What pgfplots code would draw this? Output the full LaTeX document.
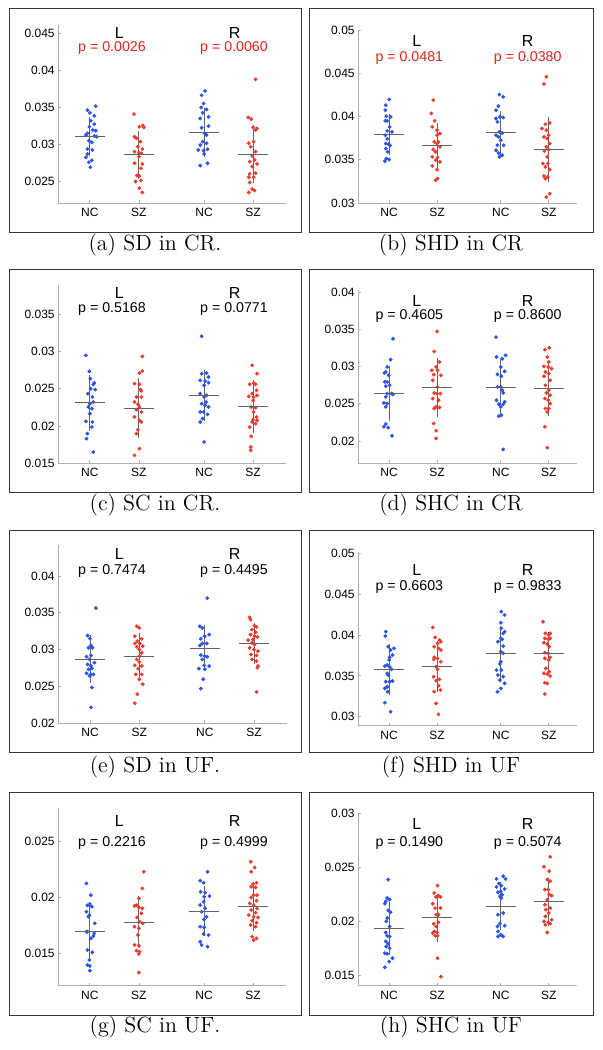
\documentclass[border=0pt]{standalone}
\usepackage{pgfplots}
\pgfplotsset{compat=1.18}
\usepackage{fontspec}
\newfontfamily\lib{Liberation Sans}
\definecolor{ptblue}{RGB}{45,85,235}
\definecolor{ptred}{RGB}{238,60,45}
\definecolor{axgray}{RGB}{175,175,175}
\definecolor{mgray}{RGB}{100,100,100}
\definecolor{pred}{RGB}{235,35,25}
\definecolor{frm}{RGB}{55,55,55}
\pgfplotsset{
  panel/.style={scale only axis, anchor=south west, axis lines*=left,
    axis line style={-, draw=axgray, line width=0.5pt},
    xmin=0.35, xtick={1,2,3.33,4.33}, xticklabels={NC,SZ,NC,SZ},
    tick style={draw=axgray, line width=0.4pt}, major tick length=1.5pt, tick align=inside,
    scaled y ticks=false,
    yticklabel style={/pgf/number format/fixed, /pgf/number format/precision=3, inner sep=0pt, xshift=-1.5pt},
    xticklabel style={inner sep=0pt, yshift=-2.4pt},
    ticklabel style={font=\lib\fontsize{6}{7}\selectfont},
    /pgf/number format/assume math mode=true, clip=false},
  nc/.style={only marks, mark=*, mark size=0.75pt, color=ptblue, mark options={draw=none, fill=ptblue}},
  sz/.style={only marks, mark=*, mark size=0.75pt, color=ptred, mark options={draw=none, fill=ptred}},
  mn/.style={only marks, mark=-, mark size=7.5pt, color=mgray, mark options={line width=0.45pt},
    error bars/.cd, y dir=both, y explicit, error bar style={mgray, line width=0.45pt},
    error mark options={mgray, mark size=1.3pt, line width=0.45pt}}
}
\newcommand{\LRlab}[3]{\node[anchor=base, inner sep=0pt, font=\lib\fontsize{8}{9}\selectfont] at (#1,#3) {L};
  \node[anchor=base, inner sep=0pt, font=\lib\fontsize{8}{9}\selectfont] at (#2,#3) {R};}
\newcommand{\plab}[6]{\node[anchor=base, inner sep=0pt, text=#4, font=\lib\fontsize{7.1}{8}\selectfont] at (#1,#3) {#5};
  \node[anchor=base, inner sep=0pt, text=#4, font=\lib\fontsize{7.1}{8}\selectfont] at (#2,#3) {#6};}
\begin{document}
\begin{tikzpicture}
\path[use as bounding box] (0,0) rectangle (301pt,-525pt);
\begin{scope}[x=0.5pt,y=-0.5pt]
\draw[line width=0.5pt, frm] (9,8) rectangle (301,232);
\draw[line width=0.5pt, frm] (309,8) rectangle (593,232);
\draw[line width=0.5pt, frm] (9,269) rectangle (301,492);
\draw[line width=0.5pt, frm] (309,269) rectangle (593,492);
\draw[line width=0.5pt, frm] (9,530) rectangle (301,752);
\draw[line width=0.5pt, frm] (309,530) rectangle (593,752);
\draw[line width=0.5pt, frm] (9,792) rectangle (301,1015);
\draw[line width=0.5pt, frm] (309,792) rectangle (593,1015);
\node[anchor=base, font=\fontsize{11}{13}\selectfont] at (155,250.5) {(a) SD in CR.};
\node[anchor=base, font=\fontsize{11}{13}\selectfont] at (451,250.5) {(b) SHD in CR};
\node[anchor=base, font=\fontsize{11}{13}\selectfont] at (155,510.5) {(c) SC in CR.};
\node[anchor=base, font=\fontsize{11}{13}\selectfont] at (451,510.5) {(d) SHC in CR};
\node[anchor=base, font=\fontsize{11}{13}\selectfont] at (155,772) {(e) SD in UF.};
\node[anchor=base, font=\fontsize{11}{13}\selectfont] at (451,772) {(f) SHD in UF};
\node[anchor=base, font=\fontsize{11}{13}\selectfont] at (155,1032.5) {(g) SC in UF.};
\node[anchor=base, font=\fontsize{11}{13}\selectfont] at (451,1032.5) {(h) SHC in UF};
\LRlab{119.3}{234.7}{38.3}
\plab{112}{234}{51.7}{pred}{p = 0.0026}{p = 0.0060}
\LRlab{416.7}{527.7}{46.7}
\plab{409.3}{527.7}{61}{pred}{p = 0.0481}{p = 0.0380}
\LRlab{119.3}{234.7}{298.3}
\plab{112}{234}{312.3}{black}{p = 0.5168}{p = 0.0771}
\LRlab{416.7}{527.7}{306}
\plab{409.3}{527.7}{319}{black}{p = 0.4605}{p = 0.8600}
\LRlab{119.3}{234.7}{559.3}
\plab{112}{234}{574}{black}{p = 0.7474}{p = 0.4495}
\LRlab{416.7}{527.7}{575.3}
\plab{409.3}{527.7}{590}{black}{p = 0.6603}{p = 0.9833}
\LRlab{119.3}{234.7}{826.7}
\plab{112}{234}{846.7}{black}{p = 0.2216}{p = 0.4999}
\LRlab{416.7}{527.7}{829.3}
\plab{409.3}{527.7}{846.7}{black}{p = 0.1490}{p = 0.5074}
\end{scope}
% (a)
\begin{axis}[panel, at={(29pt,-101.5pt)}, width=114pt, height=89pt, xmax=5.0, ymin=0.0221, ymax=0.0461, ytick={0.025,0.03,0.035,0.04,0.045}]
\addplot[nc] coordinates {(1.12,0.03516)(0.95,0.03462)(1.00,0.03426)(1.09,0.03386)(1.02,0.03319)(1.09,0.03274)(0.99,0.03238)(1.06,0.03194)(1.12,0.03185)(0.95,0.03149)(0.92,0.03126)(1.09,0.03113)(1.14,0.03104)(0.98,0.03050)(1.04,0.03028)(0.95,0.02938)(1.05,0.02925)(0.95,0.02871)(0.92,0.02827)(1.04,0.02786)(0.98,0.02760)(1.01,0.02692)};
\addplot[sz] coordinates {(1.90,0.03408)(2.08,0.03256)(2.01,0.03238)(2.10,0.03229)(1.91,0.03104)(1.95,0.03082)(2.03,0.03037)(1.98,0.02970)(2.07,0.02938)(1.91,0.02903)(2.00,0.02889)(2.05,0.02880)(2.00,0.02836)(1.91,0.02746)(2.07,0.02737)(2.04,0.02679)(1.96,0.02581)(2.01,0.02576)(1.93,0.02500)(2.04,0.02513)(2.01,0.02411)(2.07,0.02352)};
\addplot[nc] coordinates {(3.35,0.03721)(3.28,0.03663)(3.32,0.03551)(3.27,0.03498)(3.38,0.03471)(3.30,0.03426)(3.42,0.03372)(3.25,0.03350)(3.42,0.03247)(3.28,0.03225)(3.34,0.03149)(3.38,0.03126)(3.30,0.03037)(3.38,0.03015)(3.25,0.02992)(3.21,0.02925)(3.32,0.02916)(3.40,0.02934)(3.33,0.02871)(3.40,0.02746)(3.25,0.02715)};
\addplot[sz] coordinates {(4.38,0.03878)(4.23,0.03364)(4.29,0.03341)(4.41,0.03216)(4.33,0.03229)(4.38,0.03194)(4.24,0.03015)(4.34,0.03037)(4.28,0.02970)(4.38,0.02903)(4.31,0.02845)(4.26,0.02768)(4.36,0.02791)(4.41,0.02737)(4.31,0.02701)(4.38,0.02612)(4.26,0.02603)(4.24,0.02558)(4.34,0.02558)(4.26,0.02487)(4.31,0.02397)(4.36,0.02379)(4.24,0.02352)};
\addplot[mn] coordinates {(1,0.0311) +- (0,0.0023) (2,0.0286) +- (0,0.0029) (3.33,0.0316) +- (0,0.0029) (4.33,0.0287) +- (0,0.0036)};
\end{axis}
% (b)
\begin{axis}[panel, at={(179pt,-101.5pt)}, width=109.5pt, height=86.5pt, xmax=4.92, ymin=0.03, ymax=0.05, ytick={0.03,0.035,0.04,0.045,0.05}]
\addplot[nc] coordinates {(1.00,0.04197)(0.93,0.04131)(0.92,0.04073)(0.94,0.04004)(1.03,0.03996)(0.96,0.03950)(0.92,0.03950)(1.01,0.03880)(0.96,0.03834)(1.06,0.03822)(0.92,0.03784)(0.96,0.03741)(0.93,0.03687)(0.99,0.03680)(1.02,0.03664)(0.93,0.03629)(0.97,0.03591)(0.94,0.03514)(1.00,0.03502)(0.91,0.03483)};
\addplot[sz] coordinates {(1.92,0.04189)(1.88,0.04035)(1.95,0.03950)(1.90,0.03880)(2.00,0.03842)(2.06,0.03803)(2.00,0.03784)(1.94,0.03707)(2.03,0.03707)(2.00,0.03687)(2.06,0.03649)(1.92,0.03618)(1.97,0.03591)(1.90,0.03533)(2.01,0.03525)(1.97,0.03494)(2.06,0.03475)(1.90,0.03429)(2.00,0.03386)(2.01,0.03282)(1.97,0.03263)};
\addplot[nc] coordinates {(3.30,0.04255)(3.38,0.04228)(3.28,0.04120)(3.23,0.04073)(3.31,0.03996)(3.23,0.03977)(3.38,0.03988)(3.26,0.03938)(3.30,0.03822)(3.36,0.03810)(3.23,0.03784)(3.28,0.03764)(3.33,0.03726)(3.26,0.03668)(3.39,0.03668)(3.23,0.03610)(3.28,0.03579)(3.33,0.03552)(3.36,0.03552)(3.30,0.03533)};
\addplot[sz] coordinates {(4.28,0.04459)(4.23,0.04375)(4.35,0.03927)(4.26,0.03911)(4.19,0.03861)(4.28,0.03842)(4.33,0.03784)(4.23,0.03764)(4.30,0.03745)(4.35,0.03687)(4.28,0.03649)(4.33,0.03618)(4.24,0.03602)(4.30,0.03533)(4.21,0.03456)(4.31,0.03456)(4.26,0.03417)(4.35,0.03386)(4.23,0.03313)(4.31,0.03301)(4.26,0.03282)(4.35,0.03108)(4.28,0.03069)};
\addplot[mn] coordinates {(1,0.0379) +- (0,0.0021) (2,0.0366) +- (0,0.0023) (3.33,0.0381) +- (0,0.0022) (4.33,0.0362) +- (0,0.0035)};
\end{axis}
% (c)
\begin{axis}[panel, at={(29pt,-231.5pt)}, width=114pt, height=89pt, xmax=5.0, ymin=0.015, ymax=0.039, ytick={0.015,0.02,0.025,0.03,0.035}]
\addplot[nc] coordinates {(0.92,0.02952)(0.99,0.02736)(1.01,0.02637)(1.09,0.02579)(1.07,0.02561)(1.02,0.02502)(1.11,0.02489)(0.96,0.02435)(1.05,0.02390)(1.07,0.02322)(1.00,0.02300)(0.97,0.02255)(1.04,0.02233)(1.00,0.02165)(0.92,0.02062)(1.05,0.02053)(1.04,0.01985)(0.95,0.01896)(0.93,0.01828)(1.07,0.01648)};
\addplot[sz] coordinates {(2.07,0.02938)(2.07,0.02740)(2.01,0.02713)(1.91,0.02570)(2.01,0.02561)(2.03,0.02489)(2.05,0.02471)(1.95,0.02390)(2.05,0.02390)(1.91,0.02322)(1.98,0.02291)(2.01,0.02255)(1.95,0.02219)(2.05,0.02188)(1.91,0.02120)(2.01,0.02075)(2.05,0.02053)(1.98,0.01949)(1.95,0.01896)(2.01,0.01693)(1.91,0.01603)};
\addplot[nc] coordinates {(3.28,0.03208)(3.42,0.02660)(3.38,0.02713)(3.28,0.02704)(3.25,0.02615)(3.35,0.02606)(3.42,0.02583)(3.33,0.02547)(3.25,0.02435)(3.38,0.02412)(3.33,0.02390)(3.28,0.02300)(3.37,0.02322)(3.35,0.02278)(3.42,0.02255)(3.32,0.02188)(3.25,0.02188)(3.40,0.02156)(3.30,0.02098)(3.25,0.02053)(3.33,0.01783)};
\addplot[sz] coordinates {(4.31,0.02817)(4.41,0.02704)(4.34,0.02579)(4.26,0.02561)(4.38,0.02561)(4.40,0.02480)(4.31,0.02435)(4.34,0.02390)(4.24,0.02399)(4.41,0.02412)(4.33,0.02345)(4.29,0.02255)(4.38,0.02246)(4.34,0.02188)(4.40,0.02120)(4.33,0.02084)(4.41,0.02075)(4.31,0.02053)(4.38,0.02030)(4.26,0.01985)(4.29,0.01860)(4.28,0.01716)(4.28,0.01671)};
\addplot[mn] coordinates {(1,0.0231) +- (0,0.0034) (2,0.0224) +- (0,0.0037) (3.33,0.0241) +- (0,0.0031) (4.33,0.0226) +- (0,0.0032)};
\end{axis}
% (d)
\begin{axis}[panel, at={(179pt,-231.5pt)}, width=109.5pt, height=86.5pt, xmax=4.92, ymin=0.01705, ymax=0.0403, ytick={0.02,0.025,0.03,0.035,0.04}]
\addplot[nc] coordinates {(1.08,0.03375)(1.03,0.03094)(0.96,0.02996)(0.93,0.02929)(0.90,0.02915)(0.99,0.02884)(0.91,0.02795)(0.96,0.02795)(0.93,0.02737)(1.01,0.02750)(0.96,0.02638)(1.05,0.02638)(1.08,0.02629)(0.93,0.02594)(0.89,0.02513)(0.96,0.02504)(0.93,0.02460)(0.93,0.02228)(0.89,0.02192)(0.98,0.02179)(1.06,0.02071)};
\addplot[sz] coordinates {(2.00,0.03473)(1.94,0.03205)(2.05,0.03062)(1.98,0.02996)(1.89,0.02951)(2.01,0.02951)(1.93,0.02893)(2.08,0.02884)(1.91,0.02817)(2.01,0.02728)(1.94,0.02647)(2.00,0.02638)(2.07,0.02638)(1.91,0.02571)(2.03,0.02549)(1.98,0.02460)(2.05,0.02451)(1.94,0.02438)(1.93,0.02237)(1.98,0.02138)(1.98,0.02036)};
\addplot[nc] coordinates {(3.23,0.03397)(3.24,0.03129)(3.36,0.03107)(3.43,0.03152)(3.33,0.02996)(3.41,0.02937)(3.26,0.02897)(3.34,0.02871)(3.26,0.02728)(3.33,0.02728)(3.36,0.02683)(3.38,0.02647)(3.24,0.02549)(3.41,0.02527)(3.29,0.02496)(3.38,0.02496)(3.33,0.02460)(3.34,0.02348)(3.29,0.02335)(3.38,0.01888)};
\addplot[sz] coordinates {(4.25,0.03228)(4.34,0.03254)(4.30,0.03129)(4.33,0.03062)(4.23,0.03004)(4.32,0.02996)(4.39,0.02973)(4.26,0.02929)(4.33,0.02906)(4.23,0.02871)(4.36,0.02817)(4.26,0.02750)(4.33,0.02683)(4.28,0.02647)(4.36,0.02616)(4.25,0.02571)(4.32,0.02549)(4.36,0.02504)(4.26,0.02438)(4.33,0.02438)(4.30,0.02393)(4.25,0.02192)(4.30,0.01911)};
\addplot[mn] coordinates {(1,0.0264) +- (0,0.0033) (2,0.0272) +- (0,0.0036) (3.33,0.0272) +- (0,0.0035) (4.33,0.0271) +- (0,0.0034)};
\end{axis}
% (e)
\begin{axis}[panel, at={(29pt,-361.5pt)}, width=114.5pt, height=89pt, xmax=5.0, ymin=0.02, ymax=0.0442, ytick={0.02,0.025,0.03,0.035,0.04}]
\addplot[nc] coordinates {(1.12,0.03563)(0.95,0.03189)(1.00,0.03149)(1.02,0.03054)(0.97,0.03023)(1.05,0.03023)(1.02,0.02919)(0.93,0.02901)(0.99,0.02865)(1.09,0.02820)(0.95,0.02797)(1.02,0.02775)(1.04,0.02743)(0.97,0.02730)(0.93,0.02676)(1.02,0.02662)(1.07,0.02662)(0.99,0.02640)(1.04,0.02482)(1.02,0.02212)};
\addplot[sz] coordinates {(1.95,0.03315)(2.00,0.03293)(1.91,0.03180)(2.05,0.03144)(1.96,0.03113)(2.01,0.03081)(1.91,0.03081)(2.07,0.03045)(1.95,0.03036)(2.00,0.03000)(2.05,0.02955)(2.01,0.02910)(1.95,0.02865)(2.00,0.02829)(1.91,0.02784)(2.05,0.02775)(1.98,0.02739)(1.93,0.02662)(2.05,0.02662)(2.00,0.02595)(2.07,0.02527)(1.96,0.02392)(1.91,0.02270)};
\addplot[nc] coordinates {(3.38,0.03698)(3.23,0.03315)(3.28,0.03293)(3.42,0.03203)(3.33,0.03180)(3.25,0.03144)(3.28,0.03081)(3.37,0.03081)(3.23,0.03054)(3.25,0.02923)(3.33,0.02910)(3.38,0.02901)(3.28,0.02865)(3.21,0.02739)(3.42,0.02775)(3.32,0.02784)(3.33,0.02730)(3.30,0.02595)(3.25,0.02468)};
\addplot[sz] coordinates {(4.24,0.03437)(4.26,0.03405)(4.34,0.03324)(4.38,0.03306)(4.29,0.03270)(4.36,0.03234)(4.26,0.03203)(4.34,0.03180)(4.40,0.03171)(4.31,0.03135)(4.21,0.03126)(4.29,0.03090)(4.34,0.03068)(4.24,0.03023)(4.33,0.03000)(4.41,0.02977)(4.27,0.02932)(4.38,0.02919)(4.29,0.02865)(4.38,0.02842)(4.41,0.02775)(4.40,0.02752)(4.38,0.02423)};
\addplot[mn] coordinates {(1,0.0287) +- (0,0.0029) (2,0.0290) +- (0,0.0029) (3.33,0.0302) +- (0,0.0028) (4.33,0.0308) +- (0,0.0024)};
\end{axis}
% (f)
\begin{axis}[panel, at={(179pt,-362.85pt)}, width=109.5pt, height=87pt, xmax=4.92, ymin=0.0289, ymax=0.0502, ytick={0.03,0.035,0.04,0.045,0.05}]
\addplot[nc] coordinates {(0.93,0.04041)(0.92,0.03988)(0.98,0.03857)(1.10,0.03837)(1.03,0.03816)(1.07,0.03755)(1.01,0.03727)(1.00,0.03694)(0.96,0.03633)(0.91,0.03620)(1.01,0.03612)(1.05,0.03580)(0.96,0.03531)(0.98,0.03510)(0.93,0.03429)(1.01,0.03429)(1.07,0.03437)(0.96,0.03367)(0.91,0.03347)(0.97,0.03306)(0.91,0.03171)(1.03,0.03061)};
\addplot[sz] coordinates {(1.91,0.04094)(1.96,0.03971)(2.05,0.03939)(2.08,0.03918)(2.01,0.03898)(1.94,0.03857)(2.03,0.03837)(2.08,0.03816)(1.94,0.03727)(2.01,0.03714)(1.93,0.03702)(2.08,0.03673)(1.98,0.03612)(2.01,0.03580)(1.93,0.03490)(2.05,0.03457)(1.98,0.03441)(2.03,0.03380)(1.94,0.03306)(2.07,0.03327)(1.98,0.03163)(2.03,0.03029)};
\addplot[nc] coordinates {(3.34,0.04286)(3.41,0.04245)(3.33,0.04151)(3.34,0.04082)(3.41,0.04041)(3.38,0.04020)(3.33,0.03959)(3.36,0.03947)(3.27,0.03918)(3.38,0.03865)(3.33,0.03796)(3.38,0.03776)(3.33,0.03673)(3.31,0.03645)(3.24,0.03571)(3.34,0.03571)(3.27,0.03510)(3.38,0.03490)(3.31,0.03449)(3.41,0.03408)(3.33,0.03347)(3.26,0.03306)};
\addplot[sz] coordinates {(4.21,0.04163)(4.26,0.04020)(4.36,0.04020)(4.33,0.04000)(4.25,0.03959)(4.32,0.03947)(4.36,0.03959)(4.23,0.03906)(4.30,0.03890)(4.34,0.03857)(4.25,0.03784)(4.32,0.03776)(4.36,0.03727)(4.25,0.03714)(4.33,0.03694)(4.27,0.03592)(4.34,0.03551)(4.23,0.03531)(4.30,0.03522)(4.36,0.03498)(4.25,0.03416)(4.30,0.03408)(4.25,0.03278)};
\addplot[mn] coordinates {(1,0.0358) +- (0,0.0028) (2,0.0362) +- (0,0.0028) (3.33,0.0377) +- (0,0.0031) (4.33,0.0377) +- (0,0.0023)};
\end{axis}
% (g)
\begin{axis}[panel, at={(29pt,-492.85pt)}, width=114pt, height=88.7pt, xmax=5.0, ymin=0.0121, ymax=0.028, ytick={0.015,0.02,0.025}]
\addplot[nc] coordinates {(0.93,0.02127)(1.02,0.02022)(1.00,0.01942)(0.95,0.01930)(1.04,0.01918)(0.93,0.01873)(0.99,0.01843)(0.97,0.01828)(1.10,0.01769)(0.95,0.01694)(0.93,0.01694)(1.09,0.01679)(1.07,0.01655)(1.02,0.01634)(0.95,0.01530)(1.05,0.01509)(0.99,0.01440)(0.95,0.01396)(1.00,0.01387)(1.00,0.01345)};
\addplot[sz] coordinates {(2.10,0.02231)(2.07,0.02082)(2.00,0.01993)(1.95,0.01933)(1.91,0.01924)(2.00,0.01912)(2.07,0.01903)(2.05,0.01858)(1.96,0.01822)(2.01,0.01784)(2.08,0.01769)(1.91,0.01739)(2.00,0.01724)(1.98,0.01664)(1.91,0.01575)(2.00,0.01569)(1.95,0.01524)(2.01,0.01515)(2.00,0.01494)(2.00,0.01327)};
\addplot[nc] coordinates {(3.40,0.02231)(3.25,0.02151)(3.32,0.02133)(3.26,0.02052)(3.35,0.02043)(3.44,0.02013)(3.33,0.02007)(3.32,0.01963)(3.25,0.01933)(3.35,0.01903)(3.28,0.01873)(3.38,0.01828)(3.33,0.01804)(3.25,0.01739)(3.33,0.01733)(3.42,0.01664)(3.32,0.01673)(3.25,0.01604)(3.28,0.01575)(3.40,0.01560)};
\addplot[sz] coordinates {(4.28,0.02321)(4.36,0.02270)(4.29,0.02231)(4.40,0.02133)(4.33,0.02121)(4.29,0.02097)(4.38,0.02091)(4.41,0.02022)(4.34,0.02022)(4.29,0.02001)(4.40,0.01972)(4.26,0.01948)(4.34,0.01933)(4.41,0.01903)(4.29,0.01888)(4.38,0.01864)(4.24,0.01843)(4.34,0.01828)(4.43,0.01822)(4.31,0.01793)(4.40,0.01775)(4.28,0.01754)(4.38,0.01739)(4.31,0.01649)(4.40,0.01634)(4.34,0.01619)};
\addplot[mn] coordinates {(1,0.0170) +- (0,0.0022) (2,0.0178) +- (0,0.0021) (3.33,0.0188) +- (0,0.0020) (4.33,0.0192) +- (0,0.0020)};
\end{axis}
% (h)
\begin{axis}[panel, at={(179pt,-492.85pt)}, width=109.5pt, height=86.2pt, xmax=4.92, ymin=0.014, ymax=0.03, ytick={0.015,0.02,0.025,0.03}]
\addplot[nc] coordinates {(0.98,0.02385)(0.96,0.02214)(1.01,0.02199)(0.93,0.02183)(0.91,0.02161)(0.98,0.02099)(1.03,0.02081)(0.96,0.02028)(0.94,0.01997)(1.01,0.01950)(0.93,0.01894)(0.96,0.01863)(1.01,0.01857)(0.93,0.01811)(0.98,0.01789)(0.94,0.01764)(1.01,0.01748)(0.91,0.01702)(0.96,0.01696)(1.07,0.01655)(1.00,0.01624)(0.91,0.01571)};
\addplot[sz] coordinates {(2.01,0.02329)(1.94,0.02261)(2.03,0.02236)(2.07,0.02224)(1.98,0.02224)(1.91,0.02161)(1.96,0.02121)(2.07,0.02121)(1.98,0.02059)(2.03,0.02059)(1.93,0.01975)(2.03,0.01988)(1.98,0.01950)(1.94,0.01904)(2.00,0.01894)(1.91,0.01888)(1.96,0.01863)(2.01,0.01863)(2.01,0.01655)(2.08,0.01484)};
\addplot[nc] coordinates {(3.38,0.02416)(3.24,0.02391)(3.43,0.02391)(3.29,0.02348)(3.34,0.02329)(3.24,0.02317)(3.41,0.02298)(3.33,0.02276)(3.27,0.02267)(3.36,0.02245)(3.31,0.02230)(3.34,0.02214)(3.38,0.02075)(3.27,0.02059)(3.31,0.01975)(3.41,0.01957)(3.26,0.01950)(3.27,0.01904)(3.33,0.01873)(3.38,0.01857)(3.27,0.01857)};
\addplot[sz] coordinates {(4.36,0.02596)(4.23,0.02503)(4.34,0.02463)(4.30,0.02385)(4.36,0.02370)(4.25,0.02292)(4.32,0.02292)(4.34,0.02245)(4.39,0.02236)(4.30,0.02199)(4.25,0.02152)(4.36,0.02121)(4.27,0.02106)(4.33,0.02075)(4.26,0.02043)(4.39,0.02012)(4.23,0.01997)(4.32,0.01988)(4.36,0.01975)(4.26,0.01966)(4.30,0.01894)};
\addplot[mn] coordinates {(1,0.0193) +- (0,0.0022) (2,0.0203) +- (0,0.0020) (3.33,0.0214) +- (0,0.0020) (4.33,0.0218) +- (0,0.0020)};
\end{axis}
\end{tikzpicture}
\end{document}
